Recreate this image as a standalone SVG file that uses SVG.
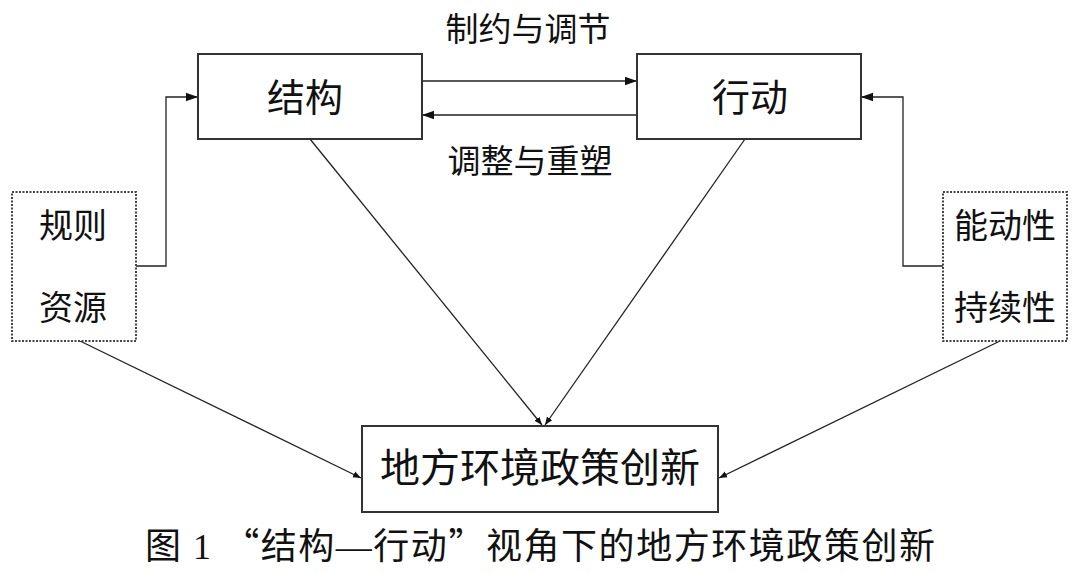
<svg xmlns="http://www.w3.org/2000/svg" width="1080" height="573" viewBox="0 0 1080 573">
<style>
.t{font-family:"Liberation Serif","Noto Sans CJK SC",serif;fill:#111;text-anchor:middle}
.cj{font-family:"Noto Sans CJK SC",sans-serif}
.box{fill:#fff;stroke:#333;stroke-width:2}
.dbox{fill:#fff;stroke:#444;stroke-width:2;stroke-dasharray:2 1.5}
.c{fill:none;stroke:#222;stroke-width:1.3}
</style>
<defs>
<marker id="ah" viewBox="0 0 10 10" refX="10" refY="5" markerWidth="8" markerHeight="8" markerUnits="userSpaceOnUse" orient="auto"><path d="M0,1 L10,5 L0,9 Z" fill="#111"/></marker>
<marker id="ah2" viewBox="0 0 10 10" refX="10" refY="5" markerWidth="12" markerHeight="12" markerUnits="userSpaceOnUse" orient="auto"><path d="M0,1.5 L10,5 L0,8.5 Z" fill="#111"/></marker>
</defs>
<rect width="1080" height="573" fill="#fff"/>
<g id="connectors">
<line class="c" x1="422" y1="81" x2="637" y2="81" marker-end="url(#ah2)"/>
<line class="c" x1="637" y1="115" x2="422" y2="115" marker-end="url(#ah2)"/>
<polyline class="c" points="136,266 166,266 166,97 198,97" marker-end="url(#ah2)"/>
<polyline class="c" points="943,266 903,266 903,97 861,97" marker-end="url(#ah2)"/>
<line class="c" x1="310" y1="139" x2="542" y2="425" marker-end="url(#ah)"/>
<line class="c" x1="745" y1="139" x2="545" y2="425" marker-end="url(#ah)"/>
<line class="c" x1="80" y1="341" x2="361" y2="478" marker-end="url(#ah)"/>
<line class="c" x1="1000" y1="341" x2="719" y2="478" marker-end="url(#ah)"/>
<text class="t" x="528" y="41" font-size="33">制约与调节</text>
<text class="t" x="530" y="173" font-size="33">调整与重塑</text>
</g>
<g id="structure">
<rect class="box" x="198" y="54" width="224" height="85"/>
<text class="t" x="305" y="111" font-size="38">结构</text>
</g>
<g id="action">
<rect class="box" x="637" y="54" width="224" height="85"/>
<text class="t" x="750" y="111" font-size="38">行动</text>
</g>
<g id="rules">
<rect class="dbox" x="12" y="192" width="124" height="149"/>
<text class="t" x="73" y="238" font-size="34">规则</text>
<text class="t" x="73" y="320" font-size="34">资源</text>
</g>
<g id="agency">
<rect class="dbox" x="943" y="192" width="124" height="149"/>
<text class="t" x="1005" y="238" font-size="34">能动性</text>
<text class="t" x="1005" y="320" font-size="34">持续性</text>
</g>
<g id="innovation">
<rect class="box" x="362" y="426" width="356" height="86"/>
<text class="t" x="540" y="482" font-size="40">地方环境政策创新</text>
</g>
<g id="caption">
<text class="t" x="540" y="559" font-size="36" textLength="790" lengthAdjust="spacing">图 1 <tspan class="cj">“</tspan>结构—行动<tspan class="cj">”</tspan>视角下的地方环境政策创新</text>
</g>
</svg>
